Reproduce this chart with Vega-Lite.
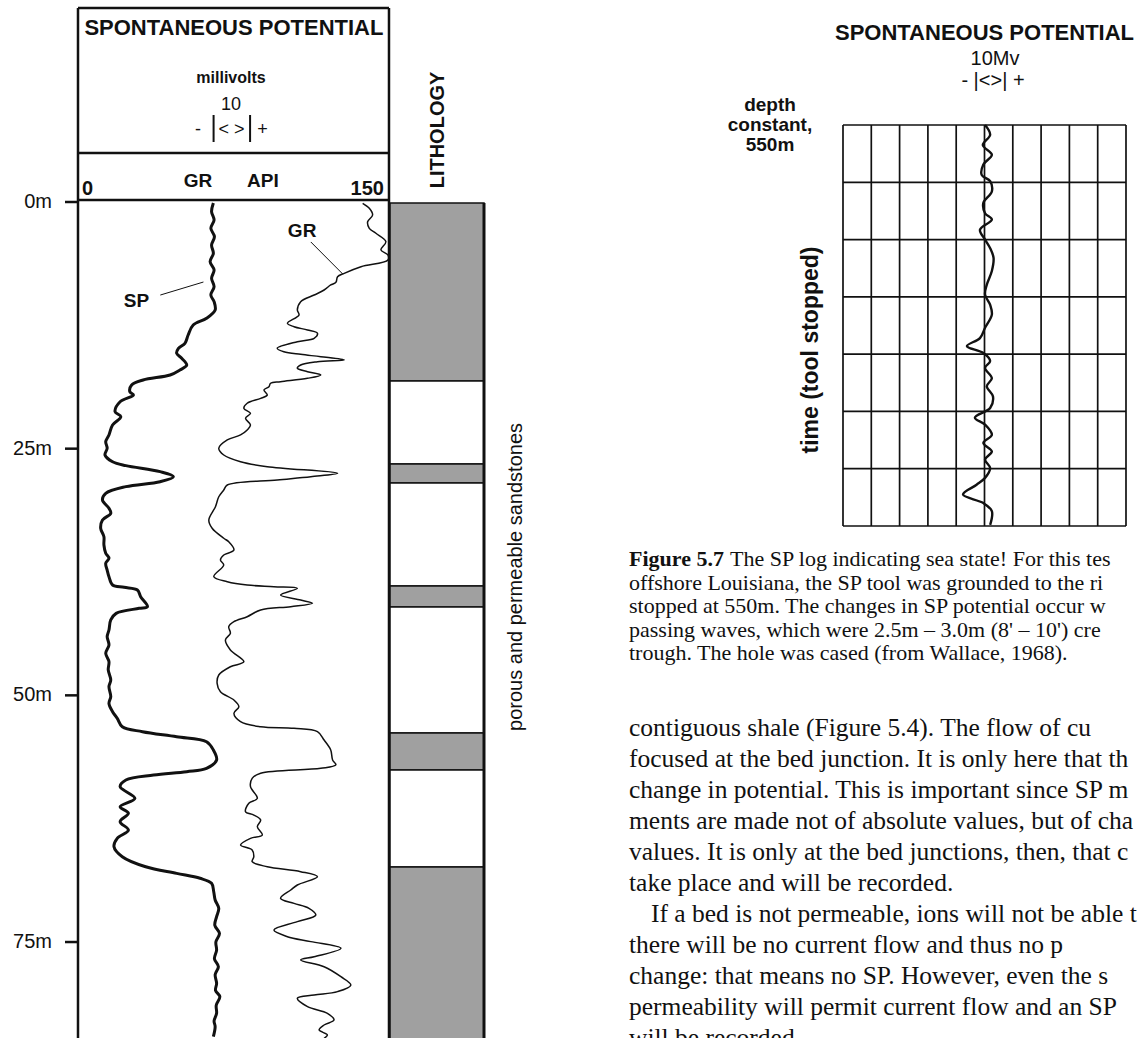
{
"$schema": "https://vega.github.io/schema/vega-lite/v6.json",
"width": 1143, "height": 1038,
"autosize": {"type": "none"},
"padding": 0,
"background": "white",
"data": {"values": [{}]},
"config": {"view": {"stroke": null}, "text": {"font": "Liberation Sans", "fill": "#111"}},
"datasets": {
"depthTicks": [{"depth": 0, "label": "0m"}, {"depth": 25, "label": "25m"}, {"depth": 50, "label": "50m"}, {"depth": 75, "label": "75m"}],
"gridMv": [{"mv": -25}, {"mv": -20}, {"mv": -15}, {"mv": -10}, {"mv": -5}, {"mv": 0}, {"mv": 5}, {"mv": 10}, {"mv": 15}, {"mv": 20}, {"mv": 25}],
"gridT": [{"t": 0}, {"t": 1}, {"t": 2}, {"t": 3}, {"t": 4}, {"t": 5}, {"t": 6}, {"t": 7}],
"sp": [
{"depth":0.1,"mv":0.1},{"depth":0.98,"mv":-0.4},{"depth":1.82,"mv":0.3},{"depth":2.67,"mv":-0.6},{"depth":3.51,"mv":0.4},{"depth":4.36,"mv":-0.4},{"depth":5.2,"mv":0.1},{"depth":6.05,"mv":-0.8},{"depth":6.89,"mv":0.3},{"depth":7.73,"mv":-0.4},{"depth":8.58,"mv":0.3},{"depth":9.43,"mv":-0.6},{"depth":10.1,"mv":0.3},{"depth":10.95,"mv":0.6},{"depth":11.79,"mv":-1.8},{"depth":12.47,"mv":-5.5},{"depth":13.48,"mv":-6.9},{"depth":14.32,"mv":-7.8},{"depth":14.83,"mv":-9.6},{"depth":15.33,"mv":-10.1},{"depth":15.84,"mv":-8.7},{"depth":16.52,"mv":-7.3},{"depth":17.03,"mv":-9.2},{"depth":17.53,"mv":-11.9},{"depth":18.04,"mv":-19.4},{"depth":18.55,"mv":-22.6},{"depth":19.23,"mv":-23.1},{"depth":19.56,"mv":-22.1},{"depth":20.24,"mv":-25.8},{"depth":21.25,"mv":-27.2},{"depth":21.76,"mv":-25.6},{"depth":22.6,"mv":-27.9},{"depth":23.61,"mv":-28.9},{"depth":24.29,"mv":-29.8},{"depth":24.96,"mv":-29.4},{"depth":25.64,"mv":-30.0},{"depth":26.32,"mv":-27.9},{"depth":26.72,"mv":-24.2},{"depth":27.33,"mv":-14.7},{"depth":27.84,"mv":-11.0},{"depth":28.35,"mv":-14.7},{"depth":28.85,"mv":-24.2},{"depth":29.53,"mv":-29.8},{"depth":30.2,"mv":-30.7},{"depth":31.04,"mv":-28.9},{"depth":31.55,"mv":-28.4},{"depth":32.23,"mv":-30.7},{"depth":33.07,"mv":-31.2},{"depth":33.92,"mv":-30.3},{"depth":34.76,"mv":-30.3},{"depth":35.6,"mv":-29.8},{"depth":36.11,"mv":-28.9},{"depth":36.62,"mv":-29.8},{"depth":37.3,"mv":-29.4},{"depth":37.97,"mv":-28.9},{"depth":38.82,"mv":-27.9},{"depth":39.05,"mv":-24.7},{"depth":39.32,"mv":-21.0},{"depth":40.0,"mv":-20.1},{"depth":41.01,"mv":-18.2},{"depth":41.18,"mv":-20.5},{"depth":41.69,"mv":-26.9},{"depth":42.36,"mv":-28.4},{"depth":43.38,"mv":-28.9},{"depth":44.05,"mv":-29.4},{"depth":44.9,"mv":-28.9},{"depth":45.74,"mv":-29.8},{"depth":46.59,"mv":-28.9},{"depth":47.43,"mv":-29.1},{"depth":48.44,"mv":-28.4},{"depth":49.12,"mv":-28.9},{"depth":50.13,"mv":-28.4},{"depth":50.81,"mv":-28.9},{"depth":51.66,"mv":-27.9},{"depth":52.33,"mv":-26.6},{"depth":53.18,"mv":-25.2},{"depth":53.68,"mv":-19.6},{"depth":54.19,"mv":-10.1},{"depth":54.7,"mv":-1.8},{"depth":55.54,"mv":0.1},{"depth":56.55,"mv":1.0},{"depth":57.4,"mv":-1.8},{"depth":57.74,"mv":-7.3},{"depth":58.08,"mv":-16.5},{"depth":58.58,"mv":-24.2},{"depth":59.26,"mv":-25.8},{"depth":60.44,"mv":-21.7},{"depth":61.29,"mv":-25.8},{"depth":61.95,"mv":-23.5},{"depth":62.8,"mv":-25.8},{"depth":63.65,"mv":-23.5},{"depth":64.49,"mv":-26.6},{"depth":65.34,"mv":-27.5},{"depth":66.35,"mv":-25.2},{"depth":67.37,"mv":-18.7},{"depth":68.04,"mv":-10.1},{"depth":68.54,"mv":-3.6},{"depth":69.05,"mv":-0.4},{"depth":69.9,"mv":0.2},{"depth":70.74,"mv":0.6},{"depth":71.6,"mv":1.6},{"depth":72.43,"mv":1.0},{"depth":73.3,"mv":0.5},{"depth":74.12,"mv":1.8},{"depth":75.0,"mv":0.8},{"depth":75.81,"mv":1.0},{"depth":76.7,"mv":0.4},{"depth":77.5,"mv":1.5},{"depth":78.3,"mv":0.6},{"depth":79.19,"mv":1.0},{"depth":79.9,"mv":0.7},{"depth":80.54,"mv":1.9},{"depth":81.4,"mv":0.9},{"depth":82.22,"mv":1.0},{"depth":83.0,"mv":0.3},{"depth":83.58,"mv":0.6},{"depth":84.59,"mv":0.1}
],
"gr": [
{"depth":0.13,"api":137.3},{"depth":0.64,"api":140.5},{"depth":1.32,"api":142.1},{"depth":2.0,"api":139.7},{"depth":2.67,"api":140.5},{"depth":3.17,"api":143.7},{"depth":4.02,"api":148.5},{"depth":4.86,"api":146.1},{"depth":5.37,"api":149.5},{"depth":5.88,"api":149.5},{"depth":6.56,"api":136.5},{"depth":7.23,"api":128.4},{"depth":7.57,"api":125.2},{"depth":8.14,"api":124.4},{"depth":8.41,"api":121.9},{"depth":8.92,"api":118.7},{"depth":9.43,"api":113.9},{"depth":10.1,"api":107.4},{"depth":10.95,"api":105.8},{"depth":11.45,"api":106.6},{"depth":12.29,"api":101.0},{"depth":12.64,"api":104.2},{"depth":12.97,"api":110.7},{"depth":13.31,"api":115.5},{"depth":13.81,"api":113.9},{"depth":14.16,"api":105.8},{"depth":14.83,"api":96.1},{"depth":15.17,"api":99.3},{"depth":15.44,"api":107.4},{"depth":15.68,"api":117.1},{"depth":16.01,"api":128.4},{"depth":16.19,"api":115.5},{"depth":16.52,"api":107.4},{"depth":16.85,"api":105.8},{"depth":17.2,"api":110.7},{"depth":17.53,"api":117.1},{"depth":17.87,"api":110.7},{"depth":18.21,"api":97.7},{"depth":18.37,"api":92.9},{"depth":18.72,"api":92.1},{"depth":19.05,"api":89.7},{"depth":19.56,"api":91.3},{"depth":19.9,"api":88.1},{"depth":20.4,"api":81.6},{"depth":20.91,"api":80.0},{"depth":21.42,"api":83.2},{"depth":21.92,"api":80.8},{"depth":22.6,"api":83.2},{"depth":23.11,"api":81.6},{"depth":23.61,"api":78.4},{"depth":24.12,"api":72.0},{"depth":24.96,"api":67.9},{"depth":25.64,"api":70.3},{"depth":26.32,"api":78.4},{"depth":26.83,"api":91.3},{"depth":27.5,"api":125.2},{"depth":27.84,"api":112.3},{"depth":28.17,"api":96.1},{"depth":28.68,"api":72.0},{"depth":29.19,"api":70.3},{"depth":29.87,"api":67.9},{"depth":30.88,"api":66.3},{"depth":32.23,"api":63.1},{"depth":33.07,"api":64.7},{"depth":34.08,"api":70.3},{"depth":34.43,"api":72.7},{"depth":35.27,"api":75.2},{"depth":35.78,"api":70.3},{"depth":36.28,"api":68.7},{"depth":36.79,"api":70.3},{"depth":37.97,"api":65.5},{"depth":38.48,"api":72.0},{"depth":38.82,"api":81.6},{"depth":38.99,"api":94.5},{"depth":39.15,"api":105.8},{"depth":39.83,"api":97.7},{"depth":40.34,"api":107.4},{"depth":40.67,"api":113.1},{"depth":41.01,"api":102.6},{"depth":41.35,"api":88.1},{"depth":42.03,"api":81.6},{"depth":42.54,"api":75.2},{"depth":43.04,"api":72.7},{"depth":43.71,"api":73.5},{"depth":44.39,"api":71.1},{"depth":45.4,"api":73.5},{"depth":46.59,"api":80.0},{"depth":47.1,"api":73.5},{"depth":47.94,"api":67.9},{"depth":48.78,"api":67.1},{"depth":49.63,"api":68.7},{"depth":50.47,"api":75.2},{"depth":51.15,"api":77.6},{"depth":51.82,"api":75.2},{"depth":52.67,"api":78.4},{"depth":53.18,"api":88.1},{"depth":53.34,"api":104.2},{"depth":53.68,"api":115.5},{"depth":54.53,"api":118.7},{"depth":55.54,"api":121.9},{"depth":56.55,"api":122.8},{"depth":57.04,"api":124.4},{"depth":57.4,"api":117.1},{"depth":57.9,"api":88.1},{"depth":58.41,"api":84.0},{"depth":59.26,"api":83.2},{"depth":60.44,"api":86.5},{"depth":60.94,"api":82.4},{"depth":61.79,"api":80.8},{"depth":62.13,"api":84.8},{"depth":62.63,"api":88.1},{"depth":63.31,"api":86.5},{"depth":64.15,"api":88.9},{"depth":64.49,"api":83.2},{"depth":65.17,"api":78.4},{"depth":65.67,"api":84.0},{"depth":66.35,"api":84.8},{"depth":66.86,"api":84.0},{"depth":67.37,"api":91.3},{"depth":67.87,"api":107.4},{"depth":68.38,"api":115.5},{"depth":69.22,"api":105.8},{"depth":69.73,"api":102.6},{"depth":70.57,"api":97.7},{"depth":71.08,"api":104.2},{"depth":71.58,"api":111.4},{"depth":72.26,"api":114.7},{"depth":72.93,"api":105.8},{"depth":73.78,"api":94.5},{"depth":74.46,"api":101.0},{"depth":74.96,"api":112.3},{"depth":75.64,"api":126.8},{"depth":76.49,"api":113.9},{"depth":76.82,"api":107.4},{"depth":77.5,"api":118.7},{"depth":78.51,"api":126.8},{"depth":79.36,"api":131.6},{"depth":80.03,"api":125.2},{"depth":80.37,"api":113.9},{"depth":80.7,"api":105.8},{"depth":81.55,"api":110.7},{"depth":82.22,"api":120.3},{"depth":82.9,"api":123.5},{"depth":83.41,"api":118.7},{"depth":83.91,"api":116.3},{"depth":84.42,"api":120.3},{"depth":84.76,"api":118.7}
],
"litho": [
{"top":0.1,"base":18.14,"rock":"shale"},{"top":18.14,"base":26.55,"rock":"sand"},{"top":26.55,"base":28.48,"rock":"shale"},{"top":28.48,"base":38.92,"rock":"sand"},{"top":38.92,"base":41.05,"rock":"shale"},{"top":41.05,"base":53.82,"rock":"sand"},{"top":53.82,"base":57.57,"rock":"shale"},{"top":57.57,"base":67.4,"rock":"sand"},{"top":67.4,"base":85.5,"rock":"shale"}
],
"seaSP": [
{"t":0,"mv":0.1},{"t":0.17,"mv":1.0},{"t":0.35,"mv":-0.3},{"t":0.52,"mv":1.3},{"t":0.69,"mv":-0.2},{"t":0.87,"mv":-0.5},{"t":0.98,"mv":1.0},{"t":1.16,"mv":1.3},{"t":1.36,"mv":-0.2},{"t":1.54,"mv":0.1},{"t":1.65,"mv":1.3},{"t":1.83,"mv":-0.8},{"t":2.0,"mv":0.1},{"t":2.15,"mv":1.0},{"t":2.32,"mv":1.6},{"t":2.55,"mv":1.3},{"t":2.79,"mv":0.4},{"t":2.96,"mv":0.1},{"t":3.14,"mv":1.0},{"t":3.31,"mv":1.3},{"t":3.54,"mv":0.1},{"t":3.72,"mv":-0.8},{"t":3.86,"mv":-3.1},{"t":3.98,"mv":-0.2},{"t":4.12,"mv":1.0},{"t":4.24,"mv":0.1},{"t":4.42,"mv":1.3},{"t":4.56,"mv":0.4},{"t":4.74,"mv":1.5},{"t":4.94,"mv":1.0},{"t":5.11,"mv":-1.7},{"t":5.23,"mv":0.1},{"t":5.41,"mv":1.3},{"t":5.55,"mv":-0.2},{"t":5.7,"mv":1.3},{"t":5.84,"mv":0.1},{"t":5.99,"mv":1.0},{"t":6.16,"mv":0.1},{"t":6.28,"mv":-1.4},{"t":6.45,"mv":-3.8},{"t":6.6,"mv":-0.2},{"t":6.74,"mv":1.3},{"t":6.98,"mv":1.0}
],
"caption": [
{"line":1,"text":"The SP log indicating sea state! For this tes"},
{"line":2,"text":"offshore Louisiana, the SP tool was grounded to the ri"},
{"line":3,"text":"stopped at 550m. The changes in SP potential occur w"},
{"line":4,"text":"passing waves, which were 2.5m – 3.0m (8' –  10') cre"},
{"line":5,"text":"trough. The hole was cased (from Wallace, 1968)."}
],
"body": [
{"line":1,"text":"contiguous shale (Figure 5.4). The flow of cu"},
{"line":2,"text":"focused at the bed junction. It is only here that th"},
{"line":3,"text":"change in potential. This is important since SP m"},
{"line":4,"text":"ments are made not of absolute values, but of cha"},
{"line":5,"text":"values. It is only at the bed junctions, then, that c"},
{"line":6,"text":"take place and will be recorded."},
{"line":7,"text":"If a bed is not permeable, ions will not be able t"},
{"line":8,"text":"there will be no current flow and thus no p"},
{"line":9,"text":"change: that means no SP. However, even the s"},
{"line":10,"text":"permeability will permit current flow and an SP"},
{"line":11,"text":"will be recorded."}
]
},
"resolve": {"scale": {"x": "independent", "y": "independent", "fill": "independent"}},
"layer": [
{"data": {"name": "litho"},
 "mark": {"type": "rect", "stroke": "#111", "strokeWidth": 1.5},
 "encoding": {
  "x": {"datum": 0.01, "type": "quantitative", "scale": {"domain": [-4.0947, 7.9368], "nice": false, "zero": false}, "axis": null},
  "x2": {"datum": 1},
  "y": {"field": "top", "type": "quantitative", "scale": {"domain": [-20.472, 84.727], "reverse": true, "nice": false, "zero": false}, "axis": null},
  "y2": {"field": "base"},
  "fill": {"field": "rock", "type": "nominal", "scale": {"domain": ["shale", "sand"], "range": ["#a0a0a0", "#ffffff"]}, "legend": null}}},
{"mark": {"type": "rule", "strokeWidth": 3, "color": "#111"},
 "encoding": {"x": {"datum": 1, "type": "quantitative", "scale": {"domain": [-4.0947, 7.9368], "nice": false, "zero": false}, "axis": null}, "y": {"datum": 0.1, "type": "quantitative", "scale": {"domain": [-20.472, 84.727], "reverse": true, "nice": false, "zero": false}, "axis": null}, "y2": {"datum": 84.727}}},
{"mark": {"type": "text", "align": "center", "baseline": "middle", "fontSize": 20, "fontWeight": "bold", "angle": 270},
 "encoding": {"x": {"datum": 0.516, "type": "quantitative", "scale": {"domain": [-4.0947, 7.9368], "nice": false, "zero": false}, "axis": null}, "y": {"datum": -7.297, "type": "quantitative", "scale": {"domain": [-20.472, 84.727], "reverse": true, "nice": false, "zero": false}, "axis": null}, "text": {"value": "LITHOLOGY"}}},
{"mark": {"type": "text", "align": "center", "baseline": "middle", "fontSize": 20, "angle": 270},
 "encoding": {"x": {"datum": 1.337, "type": "quantitative", "scale": {"domain": [-4.0947, 7.9368], "nice": false, "zero": false}, "axis": null}, "y": {"datum": 38, "type": "quantitative", "scale": {"domain": [-20.472, 84.727], "reverse": true, "nice": false, "zero": false}, "axis": null}, "text": {"value": "porous and permeable sandstones"}}},
{"data": {"name": "gr"},
 "mark": {"type": "line", "strokeWidth": 1.5, "color": "#111", "interpolate": "catmull-rom"},
 "encoding": {
  "x": {"field": "api", "type": "quantitative", "scale": {"domain": [-37.62, 513.68], "nice": false, "zero": false}, "axis": null},
  "y": {"field": "depth", "type": "quantitative", "scale": {"domain": [-20.472, 84.727], "reverse": true, "nice": false, "zero": false}, "axis": null},
  "order": {"field": "depth", "type": "quantitative"}}},
{"data": {"name": "sp"},
 "mark": {"type": "line", "strokeWidth": 3, "color": "#111", "interpolate": "catmull-rom"},
 "encoding": {
  "x": {"field": "mv", "type": "quantitative", "scale": {"domain": [-59.167, 258.333], "nice": false, "zero": false}, "axis": null},
  "y": {"field": "depth", "type": "quantitative", "scale": {"domain": [-20.472, 84.727], "reverse": true, "nice": false, "zero": false}, "axis": null},
  "order": {"field": "depth", "type": "quantitative"}}},
{"mark": {"type": "rule", "strokeWidth": 2.5, "color": "#111"},
 "encoding": {"x": {"datum": 0, "type": "quantitative", "scale": {"domain": [-37.62, 513.68], "nice": false, "zero": false}, "axis": null}, "y": {"datum": -19.662, "type": "quantitative", "scale": {"domain": [-20.472, 84.727], "reverse": true, "nice": false, "zero": false}, "axis": null}, "y2": {"datum": 84.727}}},
{"mark": {"type": "rule", "strokeWidth": 2.5, "color": "#111"},
 "encoding": {"x": {"datum": 150, "type": "quantitative", "scale": {"domain": [-37.62, 513.68], "nice": false, "zero": false}, "axis": null}, "y": {"datum": -19.662, "type": "quantitative", "scale": {"domain": [-20.472, 84.727], "reverse": true, "nice": false, "zero": false}, "axis": null}, "y2": {"datum": 84.727}}},
{"mark": {"type": "rule", "strokeWidth": 2.5, "color": "#111"},
 "encoding": {"x": {"datum": 0, "type": "quantitative", "scale": {"domain": [-37.62, 513.68], "nice": false, "zero": false}, "axis": null}, "x2": {"datum": 150}, "y": {"datum": -19.662, "type": "quantitative", "scale": {"domain": [-20.472, 84.727], "reverse": true, "nice": false, "zero": false}, "axis": null}}},
{"mark": {"type": "rule", "strokeWidth": 2.5, "color": "#111"},
 "encoding": {"x": {"datum": 0, "type": "quantitative", "scale": {"domain": [-37.62, 513.68], "nice": false, "zero": false}, "axis": null}, "x2": {"datum": 150}, "y": {"datum": -4.966, "type": "quantitative", "scale": {"domain": [-20.472, 84.727], "reverse": true, "nice": false, "zero": false}, "axis": null}}},
{"mark": {"type": "rule", "strokeWidth": 2.5, "color": "#111"},
 "encoding": {"x": {"datum": 0, "type": "quantitative", "scale": {"domain": [-37.62, 513.68], "nice": false, "zero": false}, "axis": null}, "x2": {"datum": 150}, "y": {"datum": -0.2027, "type": "quantitative", "scale": {"domain": [-20.472, 84.727], "reverse": true, "nice": false, "zero": false}, "axis": null}}},
{"data": {"name": "depthTicks"},
 "mark": {"type": "rule", "strokeWidth": 2.5, "color": "#111"},
 "encoding": {"x": {"datum": -6.27, "type": "quantitative", "scale": {"domain": [-37.62, 513.68], "nice": false, "zero": false}, "axis": null}, "x2": {"datum": 0}, "y": {"field": "depth", "type": "quantitative", "scale": {"domain": [-20.472, 84.727], "reverse": true, "nice": false, "zero": false}, "axis": null}}},
{"data": {"name": "depthTicks"},
 "mark": {"type": "text", "align": "right", "baseline": "middle", "fontSize": 20},
 "encoding": {"x": {"datum": -12.54, "type": "quantitative", "scale": {"domain": [-37.62, 513.68], "nice": false, "zero": false}, "axis": null}, "y": {"field": "depth", "type": "quantitative", "scale": {"domain": [-20.472, 84.727], "reverse": true, "nice": false, "zero": false}, "axis": null}, "text": {"field": "label"}}},
{"mark": {"type": "text", "align": "center", "baseline": "alphabetic", "fontSize": 22, "fontWeight": "bold"},
 "encoding": {"x": {"datum": 75.2, "type": "quantitative", "scale": {"domain": [-37.62, 513.68], "nice": false, "zero": false}, "axis": null}, "y": {"datum": -16.925, "type": "quantitative", "scale": {"domain": [-20.472, 84.727], "reverse": true, "nice": false, "zero": false}, "axis": null}, "text": {"value": "SPONTANEOUS POTENTIAL"}}},
{"mark": {"type": "text", "align": "center", "baseline": "alphabetic", "fontSize": 16, "fontWeight": "bold"},
 "encoding": {"x": {"datum": 73.8, "type": "quantitative", "scale": {"domain": [-37.62, 513.68], "nice": false, "zero": false}, "axis": null}, "y": {"datum": -12.06, "type": "quantitative", "scale": {"domain": [-20.472, 84.727], "reverse": true, "nice": false, "zero": false}, "axis": null}, "text": {"value": "millivolts"}}},
{"mark": {"type": "text", "align": "center", "baseline": "alphabetic", "fontSize": 18},
 "encoding": {"x": {"datum": 73.8, "type": "quantitative", "scale": {"domain": [-37.62, 513.68], "nice": false, "zero": false}, "axis": null}, "y": {"datum": -9.324, "type": "quantitative", "scale": {"domain": [-20.472, 84.727], "reverse": true, "nice": false, "zero": false}, "axis": null}, "text": {"value": "10"}}},
{"mark": {"type": "text", "align": "center", "baseline": "alphabetic", "fontSize": 18},
 "encoding": {"x": {"datum": 57.9, "type": "quantitative", "scale": {"domain": [-37.62, 513.68], "nice": false, "zero": false}, "axis": null}, "y": {"datum": -6.79, "type": "quantitative", "scale": {"domain": [-20.472, 84.727], "reverse": true, "nice": false, "zero": false}, "axis": null}, "text": {"value": "-"}}},
{"mark": {"type": "text", "align": "center", "baseline": "alphabetic", "fontSize": 18},
 "encoding": {"x": {"datum": 74.1, "type": "quantitative", "scale": {"domain": [-37.62, 513.68], "nice": false, "zero": false}, "axis": null}, "y": {"datum": -6.79, "type": "quantitative", "scale": {"domain": [-20.472, 84.727], "reverse": true, "nice": false, "zero": false}, "axis": null}, "text": {"value": "< >"}}},
{"mark": {"type": "text", "align": "center", "baseline": "alphabetic", "fontSize": 18},
 "encoding": {"x": {"datum": 89.0, "type": "quantitative", "scale": {"domain": [-37.62, 513.68], "nice": false, "zero": false}, "axis": null}, "y": {"datum": -6.79, "type": "quantitative", "scale": {"domain": [-20.472, 84.727], "reverse": true, "nice": false, "zero": false}, "axis": null}, "text": {"value": "+"}}},
{"mark": {"type": "rule", "strokeWidth": 2, "color": "#111"},
 "encoding": {"x": {"datum": 65.4, "type": "quantitative", "scale": {"domain": [-37.62, 513.68], "nice": false, "zero": false}, "axis": null}, "y": {"datum": -8.817, "type": "quantitative", "scale": {"domain": [-20.472, 84.727], "reverse": true, "nice": false, "zero": false}, "axis": null}, "y2": {"datum": -6.081}}},
{"mark": {"type": "rule", "strokeWidth": 2, "color": "#111"},
 "encoding": {"x": {"datum": 83.0, "type": "quantitative", "scale": {"domain": [-37.62, 513.68], "nice": false, "zero": false}, "axis": null}, "y": {"datum": -8.817, "type": "quantitative", "scale": {"domain": [-20.472, 84.727], "reverse": true, "nice": false, "zero": false}, "axis": null}, "y2": {"datum": -6.081}}},
{"mark": {"type": "text", "align": "left", "baseline": "alphabetic", "fontSize": 20, "fontWeight": "bold", "dx": 4},
 "encoding": {"x": {"datum": 0, "type": "quantitative", "scale": {"domain": [-37.62, 513.68], "nice": false, "zero": false}, "axis": null}, "y": {"datum": -0.709, "type": "quantitative", "scale": {"domain": [-20.472, 84.727], "reverse": true, "nice": false, "zero": false}, "axis": null}, "text": {"value": "0"}}},
{"mark": {"type": "text", "align": "center", "baseline": "alphabetic", "fontSize": 19, "fontWeight": "bold"},
 "encoding": {"x": {"datum": 57.9, "type": "quantitative", "scale": {"domain": [-37.62, 513.68], "nice": false, "zero": false}, "axis": null}, "y": {"datum": -1.52, "type": "quantitative", "scale": {"domain": [-20.472, 84.727], "reverse": true, "nice": false, "zero": false}, "axis": null}, "text": {"value": "GR"}}},
{"mark": {"type": "text", "align": "center", "baseline": "alphabetic", "fontSize": 19, "fontWeight": "bold"},
 "encoding": {"x": {"datum": 89.2, "type": "quantitative", "scale": {"domain": [-37.62, 513.68], "nice": false, "zero": false}, "axis": null}, "y": {"datum": -1.52, "type": "quantitative", "scale": {"domain": [-20.472, 84.727], "reverse": true, "nice": false, "zero": false}, "axis": null}, "text": {"value": "API"}}},
{"mark": {"type": "text", "align": "right", "baseline": "alphabetic", "fontSize": 20, "fontWeight": "bold", "dx": -5},
 "encoding": {"x": {"datum": 150, "type": "quantitative", "scale": {"domain": [-37.62, 513.68], "nice": false, "zero": false}, "axis": null}, "y": {"datum": -0.709, "type": "quantitative", "scale": {"domain": [-20.472, 84.727], "reverse": true, "nice": false, "zero": false}, "axis": null}, "text": {"value": "150"}}},
{"mark": {"type": "text", "align": "center", "baseline": "alphabetic", "fontSize": 19, "fontWeight": "bold"},
 "encoding": {"x": {"datum": 108.1, "type": "quantitative", "scale": {"domain": [-37.62, 513.68], "nice": false, "zero": false}, "axis": null}, "y": {"datum": 3.55, "type": "quantitative", "scale": {"domain": [-20.472, 84.727], "reverse": true, "nice": false, "zero": false}, "axis": null}, "text": {"value": "GR"}}},
{"mark": {"type": "rule", "strokeWidth": 1, "color": "#111"},
 "encoding": {"x": {"datum": 112.3, "type": "quantitative", "scale": {"domain": [-37.62, 513.68], "nice": false, "zero": false}, "axis": null}, "x2": {"datum": 127.7}, "y": {"datum": 4.05, "type": "quantitative", "scale": {"domain": [-20.472, 84.727], "reverse": true, "nice": false, "zero": false}, "axis": null}, "y2": {"datum": 7.3}}},
{"mark": {"type": "text", "align": "center", "baseline": "alphabetic", "fontSize": 19, "fontWeight": "bold"},
 "encoding": {"x": {"datum": 28.2, "type": "quantitative", "scale": {"domain": [-37.62, 513.68], "nice": false, "zero": false}, "axis": null}, "y": {"datum": 10.6, "type": "quantitative", "scale": {"domain": [-20.472, 84.727], "reverse": true, "nice": false, "zero": false}, "axis": null}, "text": {"value": "SP"}}},
{"mark": {"type": "rule", "strokeWidth": 1, "color": "#111"},
 "encoding": {"x": {"datum": 39.7, "type": "quantitative", "scale": {"domain": [-37.62, 513.68], "nice": false, "zero": false}, "axis": null}, "x2": {"datum": 60.5}, "y": {"datum": 9.43, "type": "quantitative", "scale": {"domain": [-20.472, 84.727], "reverse": true, "nice": false, "zero": false}, "axis": null}, "y2": {"datum": 8.11}}},
{"data": {"name": "gridMv"},
 "mark": {"type": "rule", "strokeWidth": 1.7, "color": "#111"},
 "encoding": {"x": {"field": "mv", "type": "quantitative", "scale": {"domain": [-173.94, 28.004], "nice": false, "zero": false}, "axis": null}, "y": {"datum": 0, "type": "quantitative", "scale": {"domain": [-2.182, 15.9377], "reverse": true, "nice": false, "zero": false}, "axis": null}, "y2": {"datum": 7}}},
{"data": {"name": "gridT"},
 "mark": {"type": "rule", "strokeWidth": 1.7, "color": "#111"},
 "encoding": {"x": {"datum": -25, "type": "quantitative", "scale": {"domain": [-173.94, 28.004], "nice": false, "zero": false}, "axis": null}, "x2": {"datum": 25}, "y": {"field": "t", "type": "quantitative", "scale": {"domain": [-2.182, 15.9377], "reverse": true, "nice": false, "zero": false}, "axis": null}}},
{"data": {"name": "seaSP"},
 "mark": {"type": "line", "strokeWidth": 2.4, "color": "#111", "interpolate": "catmull-rom"},
 "encoding": {"x": {"field": "mv", "type": "quantitative", "scale": {"domain": [-173.94, 28.004], "nice": false, "zero": false}, "axis": null}, "y": {"field": "t", "type": "quantitative", "scale": {"domain": [-2.182, 15.9377], "reverse": true, "nice": false, "zero": false}, "axis": null}, "order": {"field": "t", "type": "quantitative"}}},
{"mark": {"type": "text", "align": "center", "baseline": "alphabetic", "fontSize": 22, "fontWeight": "bold"},
 "encoding": {"x": {"datum": 0, "type": "quantitative", "scale": {"domain": [-173.94, 28.004], "nice": false, "zero": false}, "axis": null}, "y": {"datum": -1.4838, "type": "quantitative", "scale": {"domain": [-2.182, 15.9377], "reverse": true, "nice": false, "zero": false}, "axis": null}, "text": {"value": "SPONTANEOUS POTENTIAL"}}},
{"mark": {"type": "text", "align": "center", "baseline": "alphabetic", "fontSize": 20},
 "encoding": {"x": {"datum": 1.855, "type": "quantitative", "scale": {"domain": [-173.94, 28.004], "nice": false, "zero": false}, "axis": null}, "y": {"datum": -1.0474, "type": "quantitative", "scale": {"domain": [-2.182, 15.9377], "reverse": true, "nice": false, "zero": false}, "axis": null}, "text": {"value": "10Mv"}}},
{"mark": {"type": "text", "align": "center", "baseline": "alphabetic", "fontSize": 20},
 "encoding": {"x": {"datum": 1.5, "type": "quantitative", "scale": {"domain": [-173.94, 28.004], "nice": false, "zero": false}, "axis": null}, "y": {"datum": -0.6633, "type": "quantitative", "scale": {"domain": [-2.182, 15.9377], "reverse": true, "nice": false, "zero": false}, "axis": null}, "text": {"value": "- |<>| +"}}},
{"mark": {"type": "text", "align": "center", "baseline": "alphabetic", "fontSize": 19, "fontWeight": "bold", "lineHeight": 20},
 "encoding": {"x": {"datum": -37.9, "type": "quantitative", "scale": {"domain": [-173.94, 28.004], "nice": false, "zero": false}, "axis": null}, "y": {"datum": -0.2444, "type": "quantitative", "scale": {"domain": [-2.182, 15.9377], "reverse": true, "nice": false, "zero": false}, "axis": null}, "text": {"value": ["depth", "constant,", "550m"]}}},
{"mark": {"type": "text", "align": "center", "baseline": "middle", "fontSize": 23, "fontWeight": "bold", "angle": 270},
 "encoding": {"x": {"datum": -30.65, "type": "quantitative", "scale": {"domain": [-173.94, 28.004], "nice": false, "zero": false}, "axis": null}, "y": {"datum": 3.928, "type": "quantitative", "scale": {"domain": [-2.182, 15.9377], "reverse": true, "nice": false, "zero": false}, "axis": null}, "text": {"value": "time (tool stopped)"}}},
{"mark": {"type": "text", "align": "left", "baseline": "alphabetic", "font": "Liberation Serif", "fontSize": 22, "fontWeight": "bold"},
 "encoding": {"x": {"datum": 0, "type": "quantitative", "scale": {"domain": [-1.22374, 1.0], "nice": false, "zero": false}, "axis": null}, "y": {"datum": 1, "type": "quantitative", "scale": {"domain": [-23.085, 21.085], "reverse": true, "nice": false, "zero": false}, "axis": null}, "text": {"value": "Figure 5.7"}}},
{"data": {"name": "caption"},
 "transform": [{"filter": "datum.line == 1"}],
 "mark": {"type": "text", "align": "left", "baseline": "alphabetic", "font": "Liberation Serif", "fontSize": 22, "dx": 101},
 "encoding": {"x": {"datum": 0, "type": "quantitative", "scale": {"domain": [-1.22374, 1.0], "nice": false, "zero": false}, "axis": null}, "y": {"field": "line", "type": "quantitative", "scale": {"domain": [-23.085, 21.085], "reverse": true, "nice": false, "zero": false}, "axis": null}, "text": {"field": "text"}}},
{"data": {"name": "caption"},
 "transform": [{"filter": "datum.line > 1"}],
 "mark": {"type": "text", "align": "left", "baseline": "alphabetic", "font": "Liberation Serif", "fontSize": 22},
 "encoding": {"x": {"datum": 0, "type": "quantitative", "scale": {"domain": [-1.22374, 1.0], "nice": false, "zero": false}, "axis": null}, "y": {"field": "line", "type": "quantitative", "scale": {"domain": [-23.085, 21.085], "reverse": true, "nice": false, "zero": false}, "axis": null}, "text": {"field": "text"}}},
{"data": {"name": "body"},
 "transform": [{"filter": "datum.line != 7"}],
 "mark": {"type": "text", "align": "left", "baseline": "alphabetic", "font": "Liberation Serif", "fontSize": 25.5},
 "encoding": {"x": {"datum": 0, "type": "quantitative", "scale": {"domain": [-1.22374, 1.0], "nice": false, "zero": false}, "axis": null}, "y": {"field": "line", "type": "quantitative", "scale": {"domain": [-22.742, 10.742], "reverse": true, "nice": false, "zero": false}, "axis": null}, "text": {"field": "text"}}},
{"data": {"name": "body"},
 "transform": [{"filter": "datum.line == 7"}],
 "mark": {"type": "text", "align": "left", "baseline": "alphabetic", "font": "Liberation Serif", "fontSize": 25.5, "dx": 22},
 "encoding": {"x": {"datum": 0, "type": "quantitative", "scale": {"domain": [-1.22374, 1.0], "nice": false, "zero": false}, "axis": null}, "y": {"field": "line", "type": "quantitative", "scale": {"domain": [-22.742, 10.742], "reverse": true, "nice": false, "zero": false}, "axis": null}, "text": {"field": "text"}}}
]
}
